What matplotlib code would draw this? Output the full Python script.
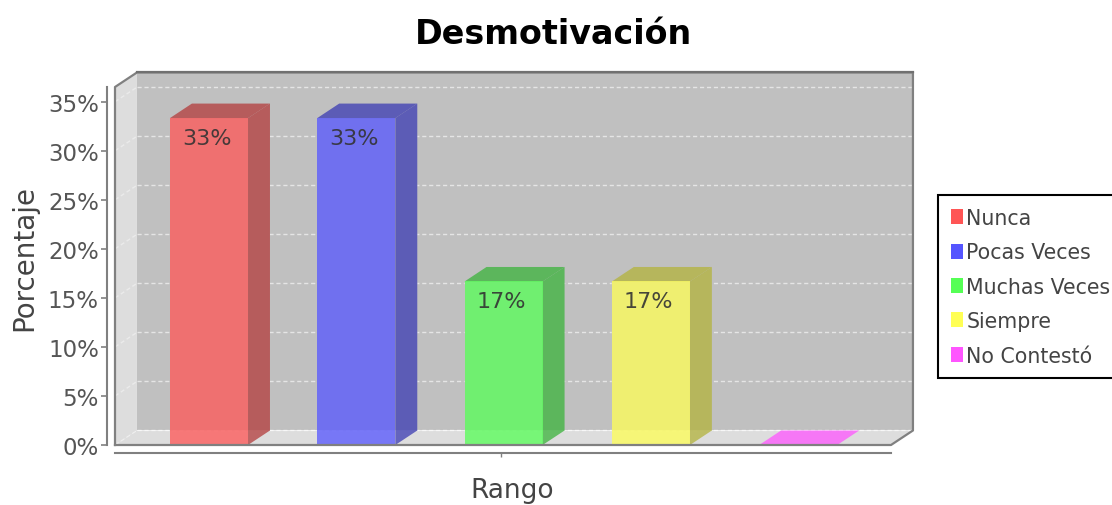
import numpy as np
from matplotlib import pyplot as plt
from matplotlib.patches import Patch, Polygon

# chart data
categories = ["Nunca", "Pocas Veces", "Muchas Veces", "Siempre", "No Contestó"]
values = [33.33, 33.33, 16.67, 16.67, 0]
colors = ["#FF5555", "#5555FF", "#55FF55", "#FFFF55", "#FF55FF"]
y_ticks = [0, 5, 10, 15, 20, 25, 30, 35]

BAR_WIDTH = 0.53
DEPTH_X = 0.149  # 3d offset in x data units
DEPTH_Y = 1.48   # 3d offset in percent
ALPHA = 0.75
XMIN, XMAX, YMAX = -0.638, 4.63, 36.5

plt.rcParams["font.family"] = "DejaVu Sans"
fig = plt.figure(figsize=(11.12, 5.06), dpi=100)
ax = fig.add_axes([115 / 1112, 60 / 506, 776 / 1112, 358 / 506])
ax.set_xlim(XMIN, XMAX)
ax.set_ylim(0, YMAX)
ax.patch.set_visible(False)


def poly(points, color, alpha=1.0, zorder=1):
    ax.add_patch(Polygon(points, closed=True, facecolor=color, edgecolor="none",
                         alpha=alpha, zorder=zorder, clip_on=False))


# walls and floor of the 3d box
x0, x1 = XMIN + DEPTH_X, XMAX + DEPTH_X
poly([(x0, DEPTH_Y), (x1, DEPTH_Y), (x1, YMAX + DEPTH_Y), (x0, YMAX + DEPTH_Y)], "#C0C0C0")
poly([(XMIN, 0), (x0, DEPTH_Y), (x0, YMAX + DEPTH_Y), (XMIN, YMAX)], "#DDDDDD")
poly([(XMIN, 0), (XMAX, 0), (x1, DEPTH_Y), (x0, DEPTH_Y)], "#DDDDDD")

for t in y_ticks:
    ax.plot([x0, x1], [t + DEPTH_Y] * 2, color="white", lw=1, ls=(0, (3, 2)), alpha=0.6,
            zorder=2, clip_on=False)
    ax.plot([XMIN, x0], [t, t + DEPTH_Y], color="white", lw=1, ls=(0, (3, 2)), alpha=0.4,
            zorder=2, clip_on=False)

# box outline
outline = [(XMIN, 0), (XMIN, YMAX), (x0, YMAX + DEPTH_Y), (x1, YMAX + DEPTH_Y),
           (x1, DEPTH_Y), (XMAX, 0), (XMIN, 0)]
ax.plot(*zip(*outline), color="#808080", lw=1.6, zorder=6, clip_on=False)
ax.plot([x0, x1], [YMAX + DEPTH_Y] * 2, color="#707070", lw=1.6, zorder=6, clip_on=False)

# bars
for i, (val, col) in enumerate(zip(values, colors)):
    left, right = i - BAR_WIDTH / 2, i + BAR_WIDTH / 2
    rgb = np.array(plt.matplotlib.colors.to_rgb(col))
    dark = tuple(rgb * 0.7)
    top_col = dark if val > 0 else col
    if val > 0:
        # hide the grid behind the translucent bar
        poly([(left, DEPTH_Y), (right + DEPTH_X, DEPTH_Y), (right + DEPTH_X, val + DEPTH_Y),
              (left + DEPTH_X, val + DEPTH_Y), (left, val)], "#C0C0C0", 1.0, 2.5)
    poly([(right, 0), (right + DEPTH_X, DEPTH_Y), (right + DEPTH_X, val + DEPTH_Y), (right, val)],
         dark, ALPHA, 3)
    poly([(left, val), (right, val), (right + DEPTH_X, val + DEPTH_Y), (left + DEPTH_X, val + DEPTH_Y)],
         top_col, ALPHA, 3)
    if val > 0:
        ax.bar(i, val, BAR_WIDTH, color=col, alpha=ALPHA, zorder=4)
        ax.annotate(f"{val:.0f}%", (i, val), xytext=(-1.5, -7), textcoords="offset points",
                    ha="center", va="top", fontsize=16, color="#333333", alpha=0.9, zorder=7)

# axes
for side in ["top", "right"]:
    ax.spines[side].set_visible(False)
for side in ["left", "bottom"]:
    ax.spines[side].set_position(("outward", 5.6))
    ax.spines[side].set_color("#808080")
    ax.spines[side].set_linewidth(1.5)
ax.set_yticks(y_ticks)
ax.set_yticklabels([f"{t}%" for t in y_ticks])
ax.set_xticks([1.98])
ax.set_xticklabels([""])
ax.tick_params(axis="y", length=4.5, width=1.2, color="#808080", labelcolor="#555555",
               labelsize=16.5, pad=1.5)
ax.tick_params(axis="x", length=3, width=1, color="#808080")

fig.text(553 / 1112, 1 - 35 / 506, "Desmotivación", ha="center", va="center",
         fontsize=24, fontweight="bold", color="black")
fig.text(512 / 1112, 1 - 491 / 506, "Rango", ha="center", va="center",
         fontsize=19, color="#444444")
fig.text(24 / 1112, 1 - 258 / 506, "Porcentaje", ha="center", va="center", rotation=90,
         fontsize=20, color="#444444")

handles = [Patch(facecolor=c, edgecolor="none", label=n) for c, n in zip(colors, categories)]
leg = fig.legend(handles=handles, loc="upper left", bbox_to_anchor=(938 / 1112, 1 - 196 / 506),
                 bbox_transform=fig.transFigure, frameon=True, fancybox=False, fontsize=14.8,
                 handlelength=0.6, handleheight=0.75, handletextpad=0.15, labelspacing=0.7,
                 borderpad=0.63, borderaxespad=0, labelcolor="#444444")
leg.get_frame().set_edgecolor("black")
leg.get_frame().set_linewidth(1.5)
leg.get_frame().set_alpha(1)

fig.savefig("out.png", dpi=100)
plt.close(fig)
